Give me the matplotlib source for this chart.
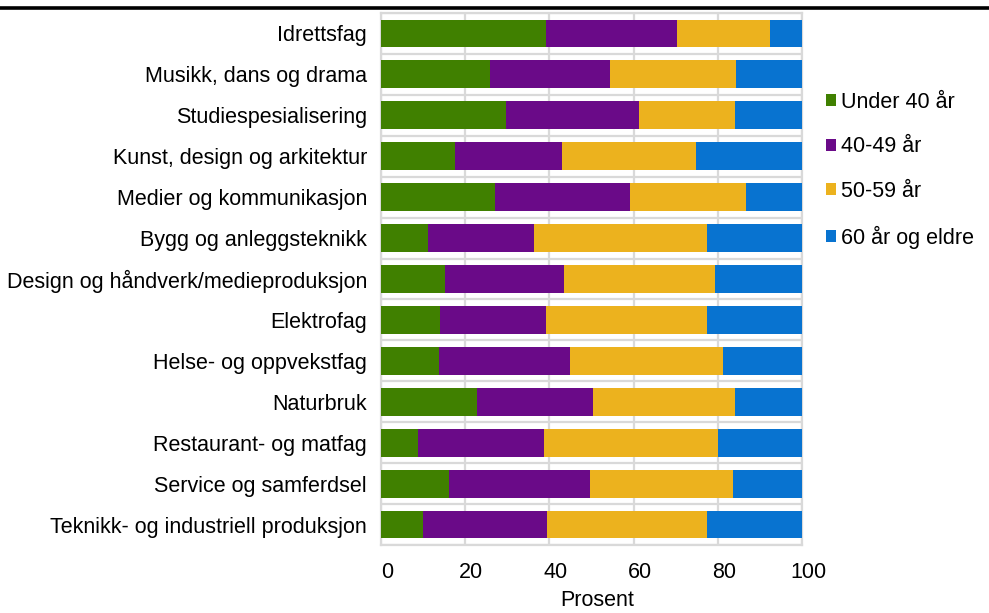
import matplotlib
matplotlib.use('Agg')
import matplotlib.pyplot as plt
import matplotlib.transforms as mtransforms
from matplotlib.patches import Patch
import numpy as np

plt.rcParams['font.family'] = ['Liberation Sans', 'DejaVu Sans']

# Utdanningsprogram, top to bottom
programs = [
    'Idrettsfag',
    'Musikk, dans og drama',
    'Studiespesialisering',
    'Kunst, design og arkitektur',
    'Medier og kommunikasjon',
    'Bygg og anleggsteknikk',
    'Design og håndverk/medieproduksjon',
    'Elektrofag',
    'Helse- og oppvekstfag',
    'Naturbruk',
    'Restaurant- og matfag',
    'Service og samferdsel',
    'Teknikk- og industriell produksjon',
]

under_40 = [39.2, 25.9, 29.7, 17.6, 27.0, 11.2, 15.3, 14.0, 13.8, 22.7, 8.7, 16.1, 9.9]
age_40_49 = [31.2, 28.5, 31.5, 25.4, 32.1, 25.2, 28.1, 25.1, 31.1, 27.7, 30.1, 33.5, 29.5]
age_50_59 = [22.0, 30.0, 23.0, 31.8, 27.7, 41.0, 35.9, 38.3, 36.3, 33.8, 41.2, 33.9, 38.1]
over_60 = [7.6, 15.6, 15.8, 25.2, 13.2, 22.6, 20.7, 22.6, 18.8, 15.8, 20.0, 16.5, 22.5]

series_labels = ['Under 40 år', '40-49 år', '50-59 år', '60 år og eldre']
colors = ['#408000', '#6a0a88', '#ecb21e', '#0873d0']
x_ticks = [0, 20, 40, 60, 80, 100]

fs = 15.5

fig = plt.figure(figsize=(9.89, 6.13), dpi=100)
ax = fig.add_axes([381 / 989, 68 / 613, 421 / 989, 532 / 613])

y = np.arange(len(programs))
left = np.zeros(len(programs))
for vals, col in zip([under_40, age_40_49, age_50_59, over_60], colors):
    ax.barh(y, vals, left=left, height=0.68, color=col, zorder=3)
    left += np.array(vals)

ax.set_xlim(0, 100)
ax.set_ylim(len(programs) - 0.5, -0.5)
ax.set_xticks(x_ticks)
ax.set_yticks(y)
ax.set_yticklabels(programs)
ax.set_yticks(np.arange(len(programs) + 1) - 0.5, minor=True)

grid_col = '#d9d9d9'
ax.grid(axis='x', which='major', color=grid_col, linewidth=1.6, zorder=0)
ax.grid(axis='y', which='minor', color=grid_col, linewidth=1.6, zorder=0)
for s in ax.spines.values():
    s.set_color(grid_col)
    s.set_linewidth(1.6)

ax.tick_params(axis='both', which='both', length=0, labelsize=fs, colors='black')
ax.tick_params(axis='x', pad=12)
ax.tick_params(axis='y', pad=10)

offset = mtransforms.ScaledTranslation(6 / 100, 0, fig.dpi_scale_trans)
for lab in ax.get_xticklabels():
    lab.set_transform(lab.get_transform() + offset)

ax.set_xlabel('Prosent', fontsize=fs, labelpad=5)
ax.xaxis.label.set_transform(ax.xaxis.label.get_transform() + offset)

handles = [Patch(facecolor=c, edgecolor='none') for c in colors]
fig.legend(handles, series_labels, loc='upper left',
           bbox_to_anchor=(817 / 989, 1 - 83 / 613), frameon=False,
           fontsize=fs, handlelength=0.5, handleheight=0.5,
           handletextpad=0.2, labelspacing=1.1, borderaxespad=0)

# thick rule under the (cut off) heading
fig.add_artist(plt.Line2D([0, 1], [1 - 8 / 613, 1 - 8 / 613],
                          transform=fig.transFigure, color='black', linewidth=2.6))

fig.savefig('out.png', dpi=100)
